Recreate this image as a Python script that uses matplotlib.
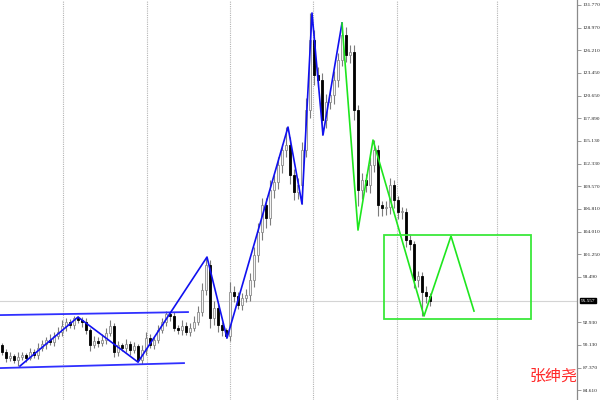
import matplotlib
matplotlib.use('Agg')
from matplotlib import pyplot as plt
from matplotlib.patches import Rectangle
from matplotlib.transforms import blended_transform_factory
import numpy as np

# closing prices, one bar each
closes = [89.26, 88.53, 88.77, 88.28, 88.65, 88.89, 88.53, 89.26, 88.89, 89.75,
          90.24, 90.73, 90.48, 91.22, 91.71, 92.44, 92.93, 92.57, 93.42, 93.18,
          92.93, 91.95, 90.12, 90.61, 90.36, 90.73, 91.59, 92.44, 89.26, 90.12,
          89.75, 90.24, 89.50, 89.99, 88.28, 89.50, 90.97, 90.12, 90.73, 91.95,
          92.93, 93.91, 93.67, 92.20, 91.95, 92.44, 91.71, 92.20, 92.93, 94.16,
          96.85, 99.92, 93.42, 94.65, 92.57, 91.95, 91.22, 96.61, 96.12, 95.02,
          95.87, 96.24, 98.08, 101.14, 103.96, 107.27, 105.67, 109.10, 110.08, 112.17,
          114.00, 114.62, 110.94, 108.86, 109.72, 114.00, 118.90, 127.48, 123.19, 122.58,
          117.68, 119.88, 120.74, 122.58, 125.03, 128.09, 125.64, 126.01, 118.90, 109.10,
          110.33, 109.72, 112.17, 114.00, 107.27, 106.90, 107.02, 109.72, 107.88, 106.41,
          106.41, 102.98, 102.49, 98.08, 98.57, 96.61, 96.12, 95.56]
first_open = 90.12
up_wick = [0.3, 0.4, 0.5, 0.3, 0.6, 0.4, 0.3, 0.5, 0.4, 0.6,
           0.5, 0.4, 0.7, 0.5, 0.6, 0.8, 0.5, 0.4, 0.3, 0.2,
           0.4, 0.5, 0.3, 0.6, 0.5, 0.8, 0.6, 0.7, 0.4, 0.5,
           0.3, 0.6, 0.4, 0.5, 0.3, 0.6, 0.7, 0.5, 0.4, 0.6,
           0.5, 0.4, 0.3, 0.5, 0.4, 0.7, 0.5, 0.6, 0.8, 0.7,
           0.9, 1.0, 0.6, 0.9, 0.5, 0.4, 0.3, 1.2, 0.8, 0.5,
           0.6, 0.7, 0.9, 1.0, 1.1, 0.9, 0.8, 1.2, 0.9, 1.0,
           0.8, 2.2, 1.0, 0.8, 0.9, 1.0, 1.5, 3.3, 1.2, 1.0,
           0.8, 1.0, 0.9, 1.1, 0.8, 1.5, 1.0, 0.9, 0.8, 0.6,
           0.9, 0.7, 1.0, 1.2, 0.6, 0.5, 0.7, 0.8, 0.6, 0.5,
           0.6, 0.5, 0.7, 0.4, 0.6, 0.5, 0.7, 0.4]
down_wick = [0.4, 0.5, 0.4, 0.3, 0.7, 0.4, 0.5, 0.3, 0.4, 0.5,
             0.4, 0.6, 0.3, 0.5, 0.4, 0.5, 0.6, 0.4, 0.5, 0.4,
             0.6, 0.5, 0.7, 0.4, 0.5, 0.3, 0.5, 0.4, 0.6, 0.5,
             0.4, 0.5, 0.6, 0.4, 0.25, 0.5, 0.6, 0.4, 0.5, 0.3,
             0.4, 0.5, 0.6, 0.4, 0.5, 0.6, 0.4, 0.5, 0.3, 0.4,
             0.5, 0.6, 1.2, 0.8, 0.9, 0.7, 0.25, 0.6, 0.7, 0.5,
             0.6, 0.5, 0.7, 0.9, 0.8, 1.0, 1.2, 0.9, 1.0, 0.8,
             1.0, 0.9, 1.1, 1.0, 0.8, 2.3, 0.9, 1.0, 1.2, 0.9,
             1.85, 1.0, 0.9, 1.1, 0.8, 0.7, 0.9, 1.0, 1.2, 2.0,
             1.1, 0.9, 1.0, 0.8, 1.3, 1.0, 0.9, 0.8, 1.0, 0.9,
             0.8, 0.9, 0.7, 1.0, 0.8, 2.9, 0.8, 0.6]

# zigzag turning points (bar index, price)
blue_zz_x = [4.5, 19, 34, 51.25, 56.25, 71.5, 75, 77.5, 80.25, 85]
blue_zz_y = [87.55, 93.55, 88.03, 100.90, 90.97, 116.82, 107.39, 130.79, 115.84, 129.56]
green_zz_x = [85, 89, 92.75, 105.5, 112.25, 118]
green_zz_y = [129.56, 104.20, 115.23, 93.67, 103.47, 94.28]

# channel lines
chan_x = [-0.5, 46.5]
chan_top = [93.79, 94.16]
chan_bottom = [87.30, 87.91]
chan_bottom_x = [-0.5, 45.5]

# target box
box_x = [95.5, 132.25]
box_y = [93.30, 103.59]

price_ticks = [131.770, 128.970, 126.210, 123.450, 120.650, 117.890, 115.130,
               112.330, 109.570, 106.810, 104.010, 101.250, 98.490, 92.930,
               90.130, 87.370, 84.610]
last_price = 95.557
grid_bars = [15.25, 36.25, 57, 77.75, 98.75, 123.75]

closes = np.array(closes)
opens = np.concatenate([[first_open], closes[:-1]])
highs = np.maximum(opens, closes) + np.array(up_wick)
lows = np.minimum(opens, closes) - np.array(down_wick)
idx = np.arange(len(closes))

fig = plt.figure(figsize=(6, 4), dpi=100)
ax = fig.add_axes([0, 0, 577 / 600, 1])
ax.set_xlim(-0.5, 143.75)
ax.set_ylim(83.39, 132.38)

for gx in grid_bars:
    ax.axvline(gx, color='#b4b4b4', lw=0.8, ls=(0, (1, 1)), zorder=0)
ax.axhline(last_price, color='#d4d4d4', lw=0.8, zorder=0)

ax.vlines(idx, lows, highs, color='#7c7c7c', lw=0.8, zorder=2)
up = closes >= opens
bottoms = np.minimum(opens, closes)
heights = np.maximum(np.abs(closes - opens), 0.08)
ax.bar(idx[up], heights[up], bottom=bottoms[up], width=0.6,
       color='#f4f4f4', edgecolor='#8c8c8c', lw=0.6, zorder=3)
ax.bar(idx[~up], heights[~up], bottom=bottoms[~up], width=0.6,
       color='black', edgecolor='black', lw=0.6, zorder=3)

ax.plot(chan_x, chan_top, color='#3030ff', lw=1.3, zorder=4)
ax.plot(chan_bottom_x, chan_bottom, color='#3030ff', lw=1.3, zorder=4)
ax.plot(blue_zz_x, blue_zz_y, color='#1010f0', lw=1.2, zorder=5)
ax.plot(green_zz_x, green_zz_y, color='#1ee61e', lw=1.2, zorder=5)
ax.add_patch(Rectangle((box_x[0], box_y[0]), box_x[1] - box_x[0],
                       box_y[1] - box_y[0], fill=False,
                       edgecolor='#3ae83a', lw=1.3, zorder=5))

for side in ['left', 'top', 'bottom']:
    ax.spines[side].set_visible(False)
ax.spines['right'].set_color('#8a8a8a')
ax.spines['right'].set_linewidth(0.9)
ax.set_xticks([])
ax.yaxis.tick_right()
ax.set_yticks(price_ticks)
ax.set_yticklabels(['%.3f' % v for v in price_ticks])
ax.tick_params(axis='y', length=3, width=0.6, color='#8a8a8a', pad=1.0,
               labelsize=3.9, labelcolor='#222222')
for lbl in ax.get_yticklabels():
    lbl.set_family('Liberation Serif')

trans = blended_transform_factory(ax.transAxes, ax.transData)
ax.text(1.006, last_price, '%.3f' % last_price, transform=trans,
        fontsize=3.9, family='Liberation Serif', color='white',
        ha='left', va='center',
        bbox=dict(boxstyle='square,pad=0.15', fc='black', ec='black'))

fig.text(0.922, 0.06, '张绅尧', ha='center', va='center', color='#ff2a2a',
         fontsize=11.5, family=['Noto Sans CJK SC', 'DejaVu Sans'])

fig.savefig('out.png', dpi=100)
